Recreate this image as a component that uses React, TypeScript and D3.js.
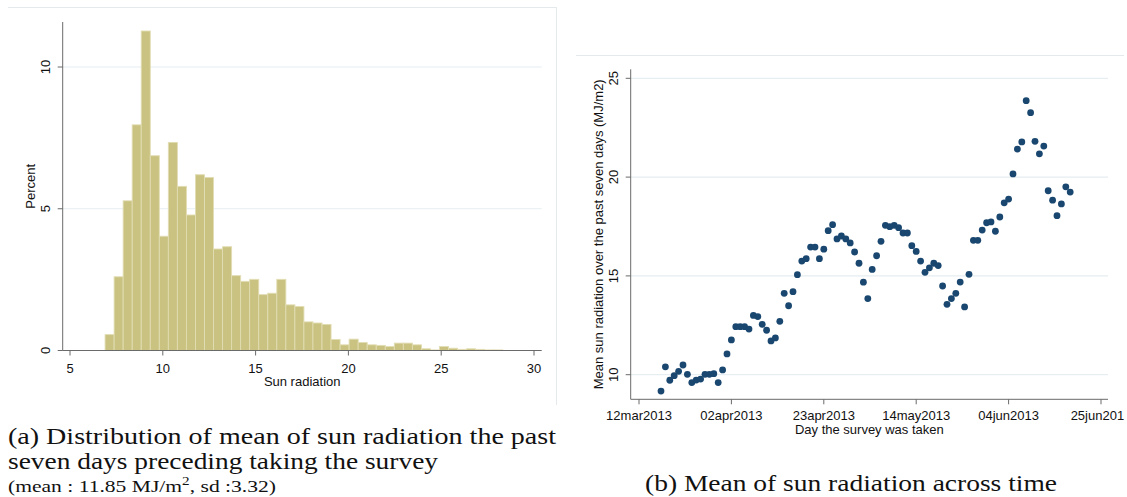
import React from 'react';
import * as d3 from 'd3';

// ---------- Panel (a): histogram ----------
const histStart = 6.89;   // lower edge of first bin (MJ/m2)
const binWidth = 0.487;   // bin width (MJ/m2)
const histPercents = [
  0.56, 2.6, 5.28, 7.96, 11.27, 6.87, 4.03, 7.34, 5.79, 4.78, 6.2, 6.1,
  3.58, 3.66, 2.64, 2.44, 2.51, 1.97, 2.02, 2.51, 1.61, 1.55, 1.01, 0.97,
  0.92, 0.39, 0.2, 0.4, 0.28, 0.2, 0.18, 0.14, 0.26, 0.26, 0.2, 0.06,
  0.02, 0.14, 0.08, 0.04, 0.06, 0.04, 0.02, 0.02,
];
const histXTicks = [5, 10, 15, 20, 25, 30];
const histYTicks = [0, 5, 10];

// ---------- Panel (b): daily mean sun radiation ----------
const firstSurveyDay = '2013-03-17'; // one point per day from here
const sunValues = [
  9.17, 10.4, 9.72, 9.95, 10.17, 10.49, 10.02, 9.6, 9.73, 9.78, 10.02, 10.02,
  10.05, 9.6, 10.24, 11.05, 11.76, 12.43, 12.43, 12.43, 12.31, 13.0, 12.94, 12.55,
  12.25, 11.71, 11.86, 12.7, 14.12, 13.49, 14.2, 15.06, 15.75, 15.87, 16.46, 16.46,
  15.87, 16.35, 17.29, 17.59, 16.87, 17.02, 16.87, 16.67, 16.21, 15.64, 14.68, 13.85,
  15.33, 16.02, 16.75, 17.56, 17.49, 17.56, 17.44, 17.17, 17.17, 16.53, 16.24, 15.75,
  15.18, 15.41, 15.64, 15.52, 14.49, 13.56, 13.85, 14.12, 14.69, 13.43, 15.08, 16.8,
  16.8, 17.32, 17.69, 17.73, 17.26, 17.98, 18.7, 18.89, 20.16, 21.42, 21.78, 23.87,
  23.26, 21.81, 21.18, 21.57, 19.31, 18.83, 18.05, 18.64, 19.51, 19.24,
];
const dateTicks = ['2013-03-12', '2013-04-02', '2013-04-23', '2013-05-14', '2013-06-04', '2013-06-25'];
const sunYTicks = [10, 15, 20, 25];

const SANS = "'Liberation Sans', Arial, sans-serif";
const SERIF = "'Liberation Serif', 'Times New Roman', serif";
const GRID = '#e6eef1';
const AXIS = '#6a6a6a';
const FRAME = '#e4eaec';
const BAR_FILL = '#c9c280';
const BAR_EDGE = '#e2ddb3';
const DOT = '#1a476f';

const parse = d3.utcParse('%Y-%m-%d');
const fmt = d3.utcFormat('%d%b%Y');

export default function App() {
  // ---- left scales
  const L = { left: 62.7, right: 541.7, top: 22, bottom: 350.5 };
  const hx = d3.scaleLinear().domain([5, 30]).range([70, 534]);
  const hy = d3.scaleLinear().domain([0, 10]).range([L.bottom, 67]);

  // ---- right scales
  const R = { left: 630.7, right: 1108, top: 69.3, bottom: 399.3 };
  const tickDates = dateTicks.map((s) => parse(s) as Date);
  const sx = d3.scaleUtc().domain([tickDates[0], tickDates[tickDates.length - 1]]).range([639, 1101]);
  const sy = d3.scaleLinear().domain([10, 25]).range([374.7, 78.3]);
  const start = parse(firstSurveyDay) as Date;
  const points = sunValues.map((v, i) => ({ date: d3.utcDay.offset(start, i), v }));

  return (
    <svg
      width={1127}
      height={497}
      style={{ position: 'absolute', left: 0, top: 0, background: '#fff' }}
      fontFamily={SANS}
    >
      <defs>
        <clipPath id="rightClip">
          <rect x={560} y={0} width={564} height={497} />
        </clipPath>
      </defs>
      <rect x={0} y={0} width={1127} height={497} fill="#fff" />

      {/* ================= LEFT PANEL ================= */}
      <line x1={8} x2={557} y1={7.5} y2={7.5} stroke={FRAME} />
      <line x1={556.5} x2={556.5} y1={7} y2={405} stroke={FRAME} />

      {histYTicks.filter((t) => t > 0).map((t) => (
        <line key={'hg' + t} x1={L.left} x2={L.right} y1={hy(t)} y2={hy(t)} stroke={GRID} strokeWidth={1.2} />
      ))}

      {histPercents.map((p, i) => {
        const x0 = histStart + i * binWidth;
        const x1 = x0 + binWidth;
        return (
          <rect
            key={'b' + i}
            x={hx(x0)}
            y={hy(p)}
            width={hx(x1) - hx(x0)}
            height={hy(0) - hy(p)}
            fill={BAR_FILL}
            stroke={BAR_EDGE}
            strokeWidth={0.9}
          />
        );
      })}

      {/* axes */}
      <line x1={L.left} x2={L.left} y1={L.top} y2={L.bottom} stroke={AXIS} />
      <line x1={L.left} x2={L.right} y1={L.bottom} y2={L.bottom} stroke={AXIS} />
      {histYTicks.map((t) => (
        <g key={'hy' + t}>
          <line x1={L.left - 5} x2={L.left} y1={hy(t)} y2={hy(t)} stroke={AXIS} />
          <text
            transform={`translate(${50},${hy(t)}) rotate(-90)`}
            textAnchor="middle"
            fontSize={13}
            fill="#111"
          >
            {t}
          </text>
        </g>
      ))}
      {histXTicks.map((t) => (
        <g key={'hx' + t}>
          <line x1={hx(t)} x2={hx(t)} y1={L.bottom} y2={L.bottom + 5} stroke={AXIS} />
          <text x={hx(t)} y={372.5} textAnchor="middle" fontSize={13} fill="#111">
            {t}
          </text>
        </g>
      ))}
      <text transform={`translate(35,${(L.top + L.bottom) / 2}) rotate(-90)`} textAnchor="middle" fontSize={13} fill="#111">
        Percent
      </text>
      <text x={(L.left + L.right) / 2} y={386} textAnchor="middle" fontSize={13} fill="#111">
        Sun radiation
      </text>

      {/* caption (a) */}
      <g fontFamily={SERIF} fill="#111">
        <text x={8} y={444} fontSize={24} textLength={548} lengthAdjust="spacingAndGlyphs">
          (a) Distribution of mean of sun radiation the past
        </text>
        <text x={8} y={468.5} fontSize={24} textLength={430} lengthAdjust="spacingAndGlyphs">
          seven days preceding taking the survey
        </text>
        <text x={8} y={492} fontSize={17} textLength={268} lengthAdjust="spacingAndGlyphs">
          (mean : 11.85 MJ/m<tspan dy={-7} fontSize={12}>2</tspan><tspan dy={7}>, sd :3.32)</tspan>
        </text>
      </g>

      {/* ================= RIGHT PANEL ================= */}
      <g clipPath="url(#rightClip)">
        <line x1={576} x2={1125} y1={55.5} y2={55.5} stroke={FRAME} />
        <line x1={1124.5} x2={1124.5} y1={55} y2={459} stroke={FRAME} />

        {sunYTicks.map((t) => (
          <line key={'sg' + t} x1={R.left} x2={R.right} y1={sy(t)} y2={sy(t)} stroke={GRID} strokeWidth={1.2} />
        ))}

        {points.map((p, i) => (
          <circle key={'p' + i} cx={sx(p.date)} cy={sy(p.v)} r={3.4} fill={DOT} />
        ))}

        <line x1={R.left} x2={R.left} y1={R.top} y2={R.bottom} stroke={AXIS} />
        <line x1={R.left} x2={R.right} y1={R.bottom} y2={R.bottom} stroke={AXIS} />
        {sunYTicks.map((t) => (
          <g key={'sy' + t}>
            <line x1={R.left - 5} x2={R.left} y1={sy(t)} y2={sy(t)} stroke={AXIS} />
            <text transform={`translate(618,${sy(t)}) rotate(-90)`} textAnchor="middle" fontSize={13} fill="#111">
              {t}
            </text>
          </g>
        ))}
        {tickDates.map((d, i) => (
          <g key={'sx' + i}>
            <line x1={sx(d)} x2={sx(d)} y1={R.bottom} y2={R.bottom + 5} stroke={AXIS} />
            <text x={sx(d)} y={419.5} textAnchor="middle" fontSize={13} fill="#111">
              {fmt(d).toLowerCase()}
            </text>
          </g>
        ))}
        <text
          transform={`translate(603,${(R.top + R.bottom) / 2}) rotate(-90)`}
          textAnchor="middle"
          fontSize={13}
          fill="#111"
        >
          Mean sun radiation over the past seven days (MJ/m2)
        </text>
        <text x={(R.left + R.right) / 2} y={433.5} textAnchor="middle" fontSize={13} fill="#111">
          Day the survey was taken
        </text>
      </g>

      {/* caption (b) */}
      <text x={645} y={491} fontFamily={SERIF} fontSize={24} fill="#111" textLength={412} lengthAdjust="spacingAndGlyphs">
        (b) Mean of sun radiation across time
      </text>
    </svg>
  );
}
